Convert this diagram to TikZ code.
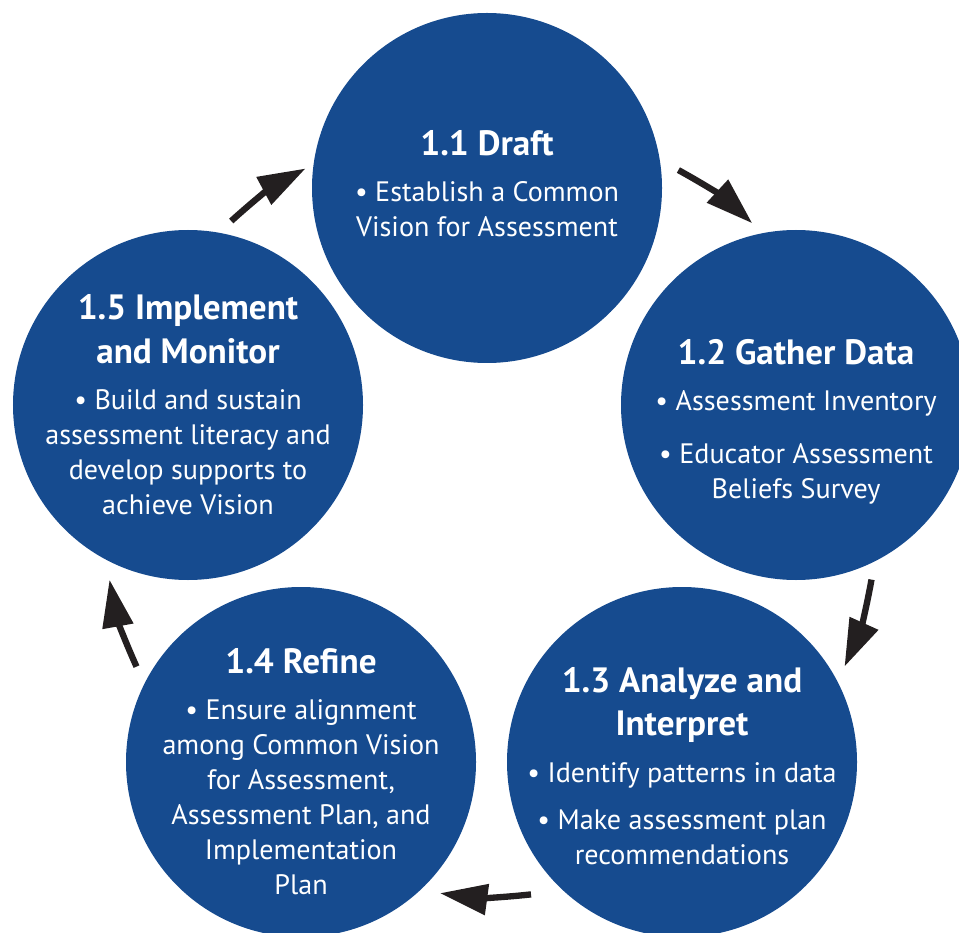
\documentclass[tikz,border=0pt]{standalone}
\usepackage{fontspec}
\setmainfont{PT Sans}
\usepackage{tikz}
\usetikzlibrary{arrows.meta, positioning, calc}

\definecolor{stageblue}{RGB}{22,75,143}
\definecolor{inkblack}{RGB}{35,31,32}
\newcommand{\stagetitle}[1]{{\fontsize{20pt}{24pt}\selectfont\bfseries #1}}

\begin{document}
\begin{tikzpicture}[
    % negative inner sep keeps every circle at its minimum size
    stage/.style={circle, fill=stageblue, text=white, minimum size=7cm, inner sep=-1.5cm,
        align=center, font=\fontsize{16pt}{19.9pt}\selectfont},
    flow/.style={-{Triangle[length=0.95cm, width=0.6cm]}, line width=3.6pt, draw=inkblack}
]
\useasboundingbox (0,0) rectangle (19.18,18.64);

% The five stages (struts nudge a text block down or up in its circle)
\node[stage] (draft) at (9.74,14.88) {\stagetitle{1.1 Draft}\\[6.6pt]
    \textbullet\ Establish a Common\\ Vision for Assessment\rule[-5pt]{0pt}{5pt}};
\node[stage] (gather) at (15.92,10.54) {\rule{0pt}{33pt}\stagetitle{1.2 Gather Data}\\[6.6pt]
    \textbullet\ Assessment Inventory\\[10pt]
    \textbullet\ Educator Assessment\\ Beliefs Survey};
\node[stage] (analyze) at (13.64,3.40) {\rule{0pt}{19pt}\stagetitle{1.3 Analyze and}\\[4.8pt]
    \stagetitle{Interpret}\\[6.6pt]
    \textbullet\ Identify patterns in data\\[7pt]
    \textbullet\ Make assessment plan\\ recommendations};
\node[stage] (refine) at (6.02,3.40) {\rule{0pt}{25pt}\stagetitle{1.4 Refine}\\[6.6pt]
    \textbullet\ Ensure alignment\\ among Common Vision\\ for Assessment,\\
    Assessment Plan, and\\ Implementation\\ Plan};
\node[stage] (monitor) at (3.76,10.54) {\stagetitle{1.5 Implement}\\[4.8pt]
    \stagetitle{and Monitor}\\[6.6pt]
    \textbullet\ Build and sustain\\ assessment literacy and\\
    develop supports to\\ achieve Vision};

% Arrows run clockwise on a ring around the hub
\coordinate (hub) at (9.81,8.46);
\coordinate (t12) at ($(hub)+(61:7.75)$);
\coordinate (h12) at ($(hub)+(47.5:7.75)$);
\coordinate (t23) at ($(hub)+(-10.5:7.75)$);
\coordinate (h23) at ($(hub)+(-24:7.75)$);
\coordinate (t34) at ($(hub)+(-84:7.75)$);
\coordinate (h34) at ($(hub)+(-97.5:7.75)$);
\coordinate (t45) at ($(hub)+(204:7.75)$);
\coordinate (h45) at ($(hub)+(190.5:7.75)$);
\coordinate (t51) at ($(hub)+(132:7.75)$);
\coordinate (h51) at ($(hub)+(118.5:7.75)$);

\draw[flow] (t12) to[bend left=7] (h12);
\draw[flow] (t23) to[bend left=7] (h23);
\draw[flow] (t34) to[bend left=7] (h34);
\draw[flow] (t45) to[bend left=7] (h45);
\draw[flow] (t51) to[bend left=7] (h51);

\end{tikzpicture}
\end{document}
